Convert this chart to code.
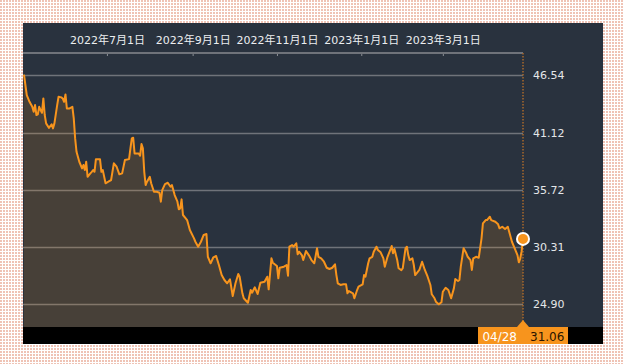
<!DOCTYPE html>
<html>
<head>
<meta charset="utf-8">
<script src="https://cdn.jsdelivr.net/npm/d3@7"></script>
<style>
	html, body { margin: 0; padding: 0; background: #fff; }
	svg { display: block; }
	text { font-family: "DejaVu Sans", "Noto Sans CJK JP", sans-serif; }
</style>
</head>
<body>
<div id="chart"></div>
<script>
// Price series (date, close)
const dates = [
	"2022-05-02","2022-05-04","2022-05-06","2022-05-08","2022-05-09","2022-05-10","2022-05-11","2022-05-12",
	"2022-05-13","2022-05-14","2022-05-15","2022-05-16","2022-05-17","2022-05-18","2022-05-20","2022-05-22",
	"2022-05-23","2022-05-24","2022-05-26","2022-05-27","2022-05-29","2022-05-30","2022-05-31","2022-06-01",
	"2022-06-02","2022-06-04","2022-06-06","2022-06-07","2022-06-08","2022-06-09","2022-06-11","2022-06-13",
	"2022-06-14","2022-06-15","2022-06-16","2022-06-17","2022-06-19","2022-06-20","2022-06-21","2022-06-22",
	"2022-06-23","2022-06-26","2022-06-27","2022-06-28","2022-06-30","2022-07-02","2022-07-04","2022-07-06",
	"2022-07-08","2022-07-10","2022-07-12","2022-07-14","2022-07-17","2022-07-18","2022-07-19","2022-07-20",
	"2022-07-21","2022-07-24","2022-07-25","2022-07-26","2022-07-27","2022-07-28","2022-07-29","2022-07-30",
	"2022-08-01","2022-08-02","2022-08-04","2022-08-06","2022-08-08","2022-08-09","2022-08-10","2022-08-12",
	"2022-08-14","2022-08-16","2022-08-17","2022-08-19","2022-08-21","2022-08-22","2022-08-23","2022-08-24",
	"2022-08-25","2022-08-27","2022-08-28","2022-08-30","2022-09-02","2022-09-03","2022-09-05","2022-09-07",
	"2022-09-09","2022-09-11","2022-09-12","2022-09-14","2022-09-16","2022-09-18","2022-09-20","2022-09-22",
	"2022-09-24","2022-09-26","2022-09-28","2022-09-30","2022-10-02","2022-10-04","2022-10-05","2022-10-07",
	"2022-10-08","2022-10-11","2022-10-13","2022-10-14","2022-10-16","2022-10-18","2022-10-20","2022-10-23",
	"2022-10-25","2022-10-26","2022-10-28","2022-10-29","2022-11-01","2022-11-02","2022-11-03","2022-11-06",
	"2022-11-08","2022-11-09","2022-11-10","2022-11-12","2022-11-13","2022-11-15","2022-11-16","2022-11-17",
	"2022-11-19","2022-11-20","2022-11-22","2022-11-24","2022-11-26","2022-11-28","2022-11-30","2022-12-01",
	"2022-12-03","2022-12-05","2022-12-07","2022-12-09","2022-12-11","2022-12-13","2022-12-14","2022-12-15",
	"2022-12-17","2022-12-19","2022-12-21","2022-12-22","2022-12-23","2022-12-25","2022-12-26","2022-12-27",
	"2022-12-29","2022-12-30","2023-01-02","2023-01-03","2023-01-04","2023-01-06","2023-01-07","2023-01-09",
	"2023-01-10","2023-01-12","2023-01-13","2023-01-15","2023-01-17","2023-01-18","2023-01-20","2023-01-22",
	"2023-01-23","2023-01-24","2023-01-25","2023-01-27","2023-01-28","2023-01-30","2023-01-31","2023-02-02",
	"2023-02-03","2023-02-04","2023-02-05","2023-02-07","2023-02-08","2023-02-09","2023-02-10","2023-02-12",
	"2023-02-14","2023-02-16","2023-02-18","2023-02-20","2023-02-21","2023-02-23","2023-02-24","2023-02-26",
	"2023-02-28","2023-03-01","2023-03-03","2023-03-05","2023-03-07","2023-03-09","2023-03-10","2023-03-12",
	"2023-03-13","2023-03-14","2023-03-16","2023-03-18","2023-03-19","2023-03-21","2023-03-22","2023-03-23",
	"2023-03-25","2023-03-27","2023-03-29","2023-03-30","2023-04-01","2023-04-02","2023-04-04","2023-04-05",
	"2023-04-08","2023-04-10","2023-04-11","2023-04-13","2023-04-15","2023-04-17","2023-04-18","2023-04-20",
	"2023-04-22","2023-04-24","2023-04-25","2023-04-26","2023-04-27","2023-04-28"
];

const prices = [
	46.60, 44.67, 44.03, 43.56, 43.09, 43.72, 42.78, 42.84,
	43.56, 43.25, 42.99, 44.35, 42.78, 41.99, 41.57, 41.90,
	41.52, 41.99, 43.72, 44.51, 44.45, 44.35, 44.03, 44.73,
	43.41, 43.41, 43.56, 42.46, 40.57, 39.30, 38.36, 37.73,
	38.05, 37.57, 38.36, 36.94, 37.26, 37.41, 37.57, 37.41,
	38.59, 38.59, 37.41, 37.57, 36.32, 36.47, 36.63, 38.21,
	37.89, 37.17, 37.26, 38.52, 38.61, 39.63, 40.57, 40.63,
	39.15, 39.15, 38.93, 40.03, 39.63, 37.41, 36.16, 36.47,
	36.94, 36.32, 35.52, 35.52, 35.43, 34.58, 35.68, 36.25,
	36.37, 35.99, 36.16, 35.21, 34.58, 33.86, 33.95, 34.80,
	33.32, 33.01, 32.84, 31.90, 31.11, 30.79, 30.32, 30.79,
	31.43, 31.52, 29.37, 28.75, 29.32, 29.44, 28.59, 27.64,
	27.17, 26.86, 27.24, 25.66, 26.86, 27.74, 27.48, 25.91,
	25.44, 25.02, 26.22, 25.97, 26.48, 25.85, 26.91, 27.01,
	27.48, 26.29, 29.22, 28.81, 28.49, 27.33, 28.33, 28.43,
	28.59, 27.58, 30.32, 30.48, 30.32, 30.64, 29.60, 29.85,
	29.53, 29.06, 29.91, 29.53, 29.06, 28.75, 30.17, 29.37,
	29.22, 28.90, 28.33, 28.21, 28.33, 28.65, 27.64, 26.86,
	26.70, 26.76, 26.76, 25.91, 26.13, 25.97, 25.91, 25.44,
	26.22, 26.54, 26.76, 27.64, 27.48, 28.75, 29.22, 29.37,
	29.85, 30.32, 30.01, 29.79, 29.22, 28.43, 29.37, 30.01,
	30.39, 29.70, 30.10, 29.06, 28.28, 28.10, 28.28, 30.17,
	30.32, 29.53, 29.06, 29.22, 28.59, 27.64, 27.80, 28.12,
	28.90, 28.12, 27.48, 26.70, 25.82, 25.44, 25.12, 24.87,
	25.06, 26.06, 26.44, 26.22, 25.44, 26.38, 27.26, 27.08,
	27.17, 28.43, 30.17, 29.70, 29.37, 29.06, 28.12, 29.22,
	29.37, 29.28, 31.11, 32.53, 32.84, 32.84, 33.16, 32.84,
	32.68, 32.44, 32.06, 32.21, 31.99, 32.21, 31.74, 30.79,
	30.17, 29.53, 28.84, 29.20, 29.90, 31.06
];

// Right axis grid values and top axis date ticks
const yTicks = [24.90, 30.31, 35.72, 41.12, 46.54];
const xTickDates = ["2022-07-01", "2022-09-01", "2022-11-01", "2023-01-01", "2023-03-01"];
const xTickLabels = ["2022年7月1日", "2022年9月1日", "2022年11月1日", "2023年1月1日", "2023年3月1日"];

const width = 624;
const height = 364;
const panel = { left: 23, top: 23, right: 603, bottom: 344 };
const plot = { left: 23, right: 523, top: 53, bottom: 327 };

const orange = "#f7941d";
const parse = d3.timeParse("%Y-%m-%d");
const data = dates.map((d, i) => ({ date: parse(d), value: prices[i] }));
const last = data[data.length - 1];

const x = d3
	.scaleTime()
	.domain([data[0].date, last.date])
	.range([24, plot.right]);

const y = d3
	.scaleLinear()
	.domain([yTicks[0], yTicks[yTicks.length - 1]])
	.range([304, 75.3]);

const svg = d3
	.select("#chart")
	.append("svg")
	.attr("width", width)
	.attr("height", height);

// Dotted backdrop
const defs = svg.append("defs");
const pat = defs
	.append("pattern")
	.attr("id", "dots")
	.attr("width", 3)
	.attr("height", 3)
	.attr("patternUnits", "userSpaceOnUse");
pat.append("rect").attr("width", 3).attr("height", 3).attr("fill", "#ffffff");
pat.append("rect").attr("width", 2).attr("height", 2).attr("fill", "#efc3b5");

svg.append("rect")
	.attr("width", width)
	.attr("height", height)
	.attr("fill", "url(#dots)");

// Dark panel
svg.append("rect")
	.attr("x", panel.left)
	.attr("y", panel.top)
	.attr("width", panel.right - panel.left)
	.attr("height", panel.bottom - panel.top)
	.attr("fill", "#29323e");

// Gridlines
svg.append("g")
	.selectAll("line")
	.data(yTicks)
	.join("line")
	.attr("x1", plot.left)
	.attr("x2", plot.right)
	.attr("y1", (d) => Math.round(y(d)) + 0.5)
	.attr("y2", (d) => Math.round(y(d)) + 0.5)
	.attr("stroke", "#6f737a")
	.attr("stroke-width", 1.5);

// Right labels
svg.append("g")
	.selectAll("text")
	.data(yTicks)
	.join("text")
	.attr("x", 533)
	.attr("y", (d) => y(d))
	.attr("dy", "0.36em")
	.attr("fill", "#e4e6e8")
	.style("font-size", "11px")
	.text((d) => d.toFixed(2));

// Top date axis
const xAxis = d3
	.axisTop(x)
	.tickValues(xTickDates.map(parse))
	.tickSize(-3)
	.tickPadding(9)
	.tickFormat((d, i) => xTickLabels[i]);

const gx = svg
	.append("g")
	.attr("transform", `translate(0,${plot.top})`)
	.call(xAxis);
gx.select(".domain").remove();
gx.selectAll(".tick line").attr("stroke", "#8a8e94");
gx.selectAll(".tick text")
	.attr("fill", "#eceef0")
	.style("font-size", "11px")
	.style("font-family", '"DejaVu Sans", "Noto Sans CJK JP", sans-serif');
gx.append("line")
	.attr("x1", plot.left)
	.attr("x2", plot.right)
	.attr("y1", 0)
	.attr("y2", 0)
	.attr("stroke", "#6f737a")
	.attr("stroke-width", 2);

// Area and line
const area = d3
	.area()
	.x((d) => x(d.date))
	.y0(plot.bottom)
	.y1((d) => y(d.value));

const line = d3
	.line()
	.x((d) => x(d.date))
	.y((d) => y(d.value));

svg.append("path")
	.datum(data)
	.attr("d", area)
	.attr("fill", orange)
	.attr("fill-opacity", 0.15);

// Dotted cursor line at the last point
svg.append("line")
	.attr("x1", x(last.date))
	.attr("x2", x(last.date))
	.attr("y1", plot.top)
	.attr("y2", plot.bottom)
	.attr("stroke", "#a8682c")
	.attr("stroke-width", 1.5)
	.attr("stroke-dasharray", "1.5,1.5");

svg.append("path")
	.datum(data)
	.attr("d", line)
	.attr("fill", "none")
	.attr("stroke", orange)
	.attr("stroke-width", 2)
	.attr("stroke-linejoin", "round");

svg.append("circle")
	.attr("cx", x(last.date))
	.attr("cy", y(last.value))
	.attr("r", 6)
	.attr("fill", orange)
	.attr("stroke", "#ffffff")
	.attr("stroke-width", 2);

// Bottom bar with the last value badge
svg.append("rect")
	.attr("x", panel.left)
	.attr("y", plot.bottom)
	.attr("width", panel.right - panel.left)
	.attr("height", panel.bottom - plot.bottom)
	.attr("fill", "#000000");

const cx = x(last.date);
svg.append("rect")
	.attr("x", cx - 45)
	.attr("y", plot.bottom)
	.attr("width", 90)
	.attr("height", panel.bottom - plot.bottom)
	.attr("fill", orange);

svg.append("path")
	.attr("d", `M${cx - 6},${plot.bottom} L${cx},${plot.bottom - 7} L${cx + 6},${plot.bottom} Z`)
	.attr("fill", orange);

svg.append("text")
	.attr("x", cx - 6)
	.attr("y", 341)
	.attr("text-anchor", "end")
	.attr("fill", "#ffffff")
	.style("font-size", "12px")
	.text(d3.timeFormat("%m/%d")(last.date));

svg.append("text")
	.attr("x", cx + 7)
	.attr("y", 341)
	.attr("fill", "#2a1500")
	.style("font-size", "12px")
	.text(last.value.toFixed(2));
</script>
</body>
</html>
